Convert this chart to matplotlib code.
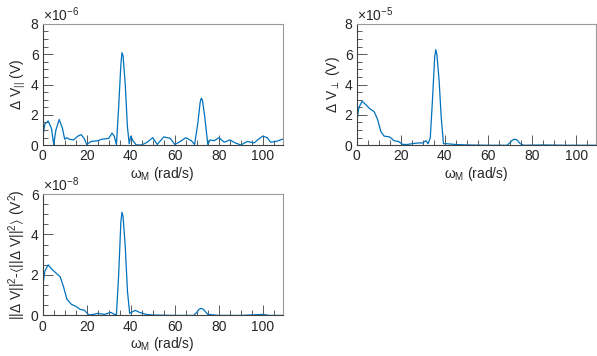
import numpy as np
import matplotlib.pyplot as plt
from matplotlib.ticker import MultipleLocator

plt.rcParams['font.family'] = ['Liberation Sans', 'DejaVu Sans']
plt.rcParams['mathtext.default'] = 'regular'
plt.rcParams['font.size'] = 10

# angular frequency grid (rad/s) and amplitudes
w_par = [0, 1, 2.5, 4, 5, 6, 7.5, 9, 10, 11, 12, 14, 16, 17.5, 19, 20, 22, 25, 27, 30,
         31.5, 32.5, 33.5, 34.5, 35.5, 36, 36.5, 37.5, 38.5, 39.3, 40, 41, 42.5, 45, 47.5,
         50, 52, 55, 58, 60, 62.5, 65, 67.5, 69, 70.5, 71.5, 72, 72.5, 73.5, 75, 76, 78,
         80, 82.5, 85, 87.5, 90, 93, 96, 98, 100, 102, 103.5, 106, 109]
v_par = [0.5, 1.4, 1.6, 1.1, 0.05, 1.0, 1.7, 1.1, 0.4, 0.5, 0.4, 0.35, 0.6, 0.7, 0.4, 0.05, 0.25, 0.3, 0.4, 0.45,
         0.8, 0.6, 0.05, 2.5, 5.3, 6.1, 5.9, 4.0, 1.2, 0.1, 0.6, 0.3, 0.02, 0.02, 0.2,
         0.5, 0.05, 0.55, 0.45, 0.05, 0.25, 0.5, 0.3, 0.05, 1.5, 2.8, 3.1, 3.0, 2.0, 0.05, 0.35, 0.3,
         0.5, 0.2, 0.35, 0.15, 0.02, 0.25, 0.15, 0.4, 0.6, 0.5, 0.2, 0.25, 0.4]

w_perp = [0, 1, 2.5, 4, 6, 8, 9.5, 11, 12.5, 15, 17, 19, 21, 23, 25, 28, 30, 31.5,
          32.5, 33.5, 34.5, 35.5, 36, 36.5, 37.5, 38.5, 39.5, 41, 45, 50, 60, 68.5,
          70, 71, 72, 73, 74.5, 76, 85, 95, 109]
v_perp = [1.5, 2.5, 2.9, 2.7, 2.4, 2.2, 1.7, 0.9, 0.6, 0.55, 0.3, 0.25, 0.05, 0.05, 0.1, 0.15, 0.15, 0.3,
          0.1, 0.5, 3.0, 5.8, 6.3, 6.0, 4.3, 1.8, 0.1, 0.1, 0.05, 0.02, 0.0, 0.0,
          0.2, 0.35, 0.4, 0.35, 0.1, 0.0, 0.02, 0.0, 0.0]

w_var = [0, 1, 2.5, 4, 6, 8, 9.5, 11, 13, 15, 17, 19, 21, 23, 25, 28, 31, 32.5,
         33.5, 34.5, 35.5, 36, 36.5, 37.5, 38.5, 39.5, 42, 44, 47, 50, 60, 68.5,
         70, 71, 72, 73, 75, 80, 90, 100, 103, 109]
v_var = [1.4, 2.2, 2.5, 2.3, 2.1, 1.9, 1.4, 0.8, 0.55, 0.45, 0.3, 0.25, 0.02, 0.05, 0.1, 0.05, 0.15, 0.05,
         0.05, 2.0, 4.6, 5.1, 4.9, 3.4, 1.2, 0.1, 0.25, 0.15, 0.05, 0.02, 0.0, 0.0,
         0.15, 0.3, 0.35, 0.3, 0.05, 0.0, 0.0, 0.05, 0.0, 0.0]

line_col = '#0072BD'
text_col = '#262626'

fig = plt.figure(figsize=(5.97, 3.56), dpi=100)


def panel(rect, x, y, ymax, expo, ylabel):
    ax = fig.add_axes(rect)
    ax.plot(x, y, color=line_col, lw=0.9)
    ax.set_xlim(0, 109)
    ax.set_ylim(0, ymax)
    ax.xaxis.set_major_locator(MultipleLocator(20))
    ax.xaxis.set_minor_locator(MultipleLocator(5))
    ax.yaxis.set_major_locator(MultipleLocator(2))
    ax.yaxis.set_minor_locator(MultipleLocator(0.5))
    ax.tick_params(which='both', direction='in', top=False, right=False,
                   colors='#404040', labelcolor=text_col, labelsize=10)
    ax.tick_params(which='major', length=7, width=0.6, pad=3)
    ax.tick_params(which='minor', length=3.5, width=0.6)
    for side in ['left', 'bottom']:
        ax.spines[side].set_color('#404040')
        ax.spines[side].set_linewidth(0.8)
    for side in ['top', 'right']:
        ax.spines[side].set_color('#999999')
        ax.spines[side].set_linewidth(0.8)
    ax.set_xlabel(r'$\omega_M$ (rad/s)', color=text_col, labelpad=1)
    ax.set_ylabel(ylabel, color=text_col, labelpad=2)
    ax.text(0.0, 1.0, r'$\times$10$^{%d}$' % expo, transform=ax.transAxes,
            ha='left', va='bottom', color=text_col, fontsize=10)
    return ax


panel([0.0715, 0.592, 0.402, 0.341], w_par, v_par, 8, -6, r'$\Delta$ V$_{||}$ (V)')
panel([0.5975, 0.592, 0.401, 0.341], w_perp, v_perp, 8, -5, r'$\Delta$ V$_{\perp}$ (V)')
panel([0.0715, 0.114, 0.402, 0.341], w_var, v_var, 6, -8,
      r'||$\Delta$ V||$^2$-$\langle$||$\Delta$ V||$^2\rangle$ (V$^2$)')

fig.savefig('out.png', dpi=100)
